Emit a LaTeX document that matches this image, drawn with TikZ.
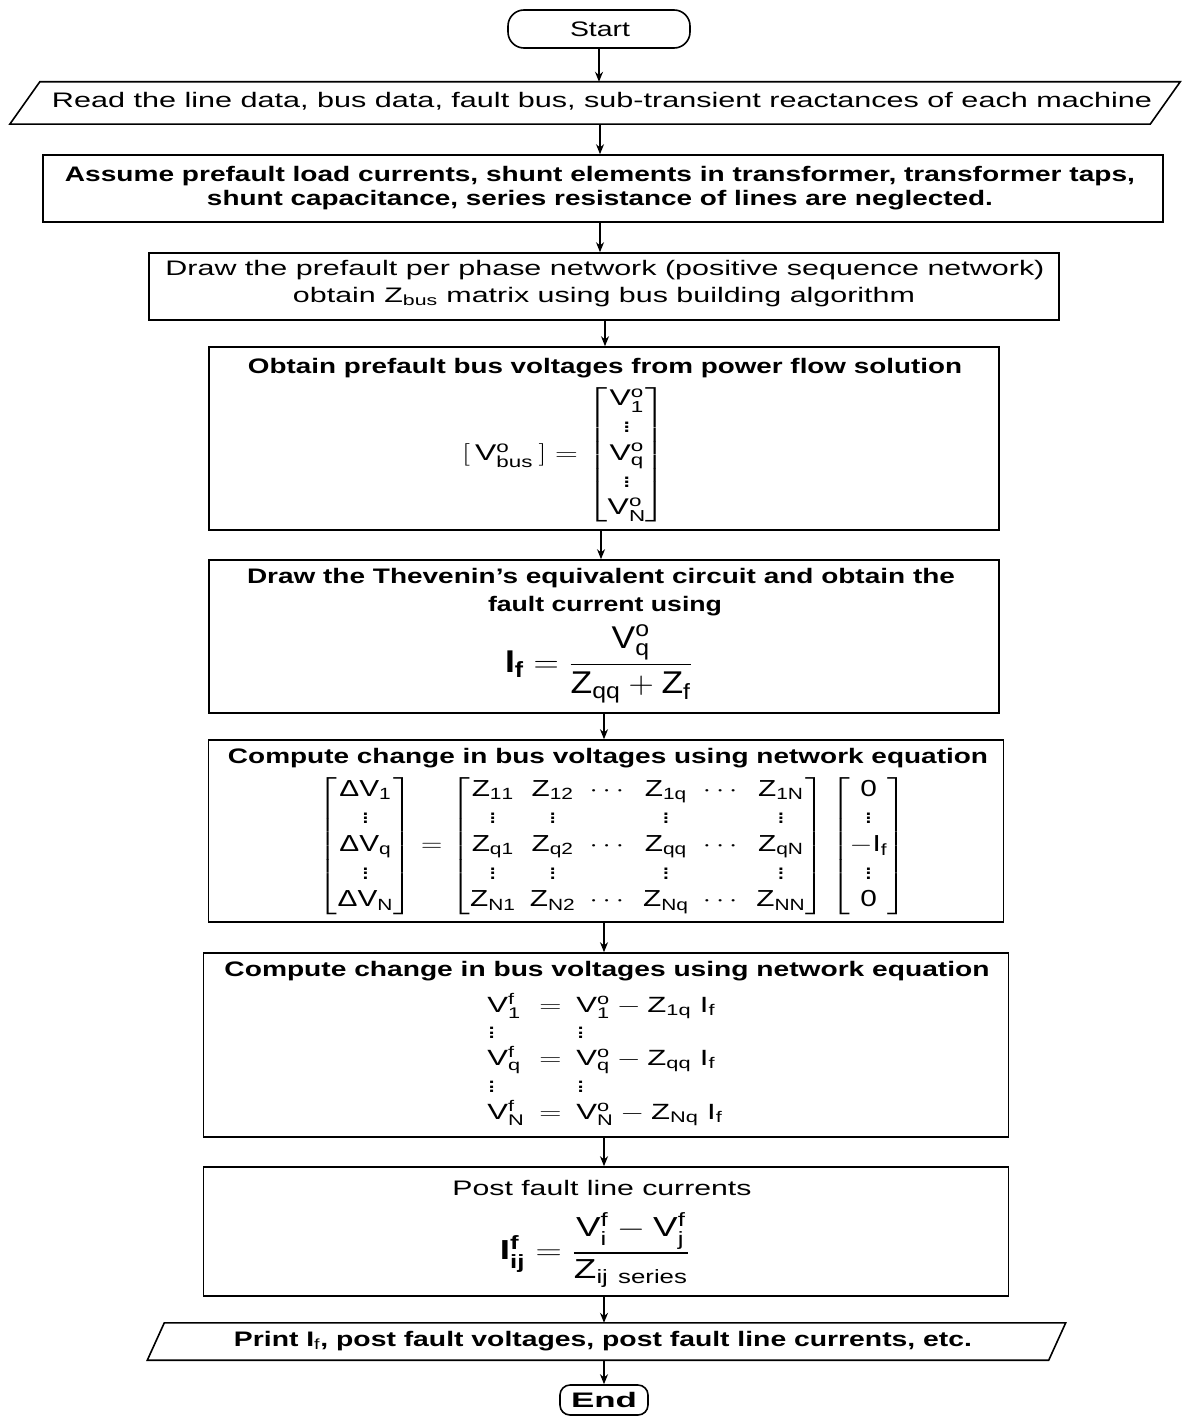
\documentclass[tikz,border=0pt]{standalone}
\usepackage{amsmath}
\usepackage{fontspec}
\setmainfont{Liberation Sans}
\usetikzlibrary{arrows.meta}
\newcommand{\fitw}[2]{\resizebox{#1}{\height}{#2}}
\newcommand{\fitb}[3]{\resizebox*{#1}{#2}{#3}}
\newcommand{\mr}[1]{\mathrm{#1}}
\begin{document}
\begin{tikzpicture}[x=1pt,y=-1pt,
  box/.style={draw, line width=1.6pt, inner sep=0pt},
  ghost/.style={inner sep=0pt},
  txt/.style={inner sep=0pt, font=\fontsize{21}{25}\selectfont},
  arr/.style={line width=1.3pt, -{Stealth[length=10pt,width=8pt]}}]
\useasboundingbox (0,0) rectangle (1187,1418);
\fill[white] (0,0) rectangle (1187,1418);

% Start
\node[box, rounded corners=16pt, minimum width=182pt, minimum height=38pt] (start) at (599,29) {};
\node[txt] (starttxt) at (600,29) {\fitw{60pt}{Start}};

% Read (parallelogram)
\node[ghost, minimum width=1140pt, minimum height=42pt] (read) at (595,103) {};
\draw[line width=1.6pt] ([xshift=15pt]read.north west) -- ([xshift=15pt]read.north east)
  -- ([xshift=-15pt]read.south east) -- ([xshift=-15pt]read.south west) -- cycle;
\node[txt] (readtxt) at (602,101) {\fitw{1100pt}{Read the line data, bus data, fault bus, sub-transient reactances of each machine}};

% Assume
\node[box, minimum width=1120pt, minimum height=67pt] (assume) at (603,188.5) {};
\node[txt] (assume1) at (600,176) {\fitw{1070pt}{\bfseries Assume prefault load currents, shunt elements in transformer, transformer taps,}};
\node[txt] (assume2) at (600,200) {\fitw{786pt}{\bfseries shunt capacitance, series resistance of lines are neglected.}};

% Draw prefault network
\node[box, minimum width=910pt, minimum height=67pt] (drawnet) at (604,286.5) {};
\node[txt] (drawnet1) at (605,270) {\fitw{879pt}{Draw the prefault per phase network (positive sequence network)}};
\node[txt] (drawnet2) at (604,297) {\fitw{622pt}{obtain Z$_{\mr{bus}}$ matrix using bus building algorithm}};

% Obtain prefault voltages
\node[box, minimum width=790pt, minimum height=183pt] (obtain) at (604,438.5) {};
\node[txt] (obtain1) at (605,368) {\fitw{714pt}{\bfseries Obtain prefault bus voltages from power flow solution}};
\node[txt] (obtaineq) at (564.5,455) {\fitb{205pt}{136pt}{$[\,\mr{V^{o}_{bus}}\,] = \begin{bmatrix}\mr{V^{o}_{1}}\\ \vdots\\ \mr{V^{o}_{q}}\\ \vdots\\ \mr{V^{o}_{N}}\end{bmatrix}$}};

% Thevenin
\node[box, minimum width=790pt, minimum height=153pt] (thev) at (604,636.5) {};
\node[txt] (thev1) at (601,578) {\fitw{708pt}{\bfseries Draw the Thevenin's equivalent circuit and obtain the}};
\node[txt] (thev2) at (605,606) {\fitw{234pt}{\bfseries fault current using}};
\node[txt] (theveq) at (599,664) {\fitb{188pt}{78pt}{$\mathbf{I_{f}} = \dfrac{\mr{V^{o}_{q}}}{\mr{Z_{qq}} + \mr{Z_{f}}}$}};

% Compute change
\node[box, minimum width=795pt, minimum height=182pt] (comp1) at (606,831) {};
\node[txt] (comp1t) at (608,758) {\fitw{760pt}{\bfseries Compute change in bus voltages using network equation}};
\node[txt] (comp1eq) at (612.5,846) {\fitb{589pt}{138pt}{$\begin{bmatrix}\text{Δ}\mr{V_{1}}\\ \vdots\\ \text{Δ}\mr{V_{q}}\\ \vdots\\ \text{Δ}\mr{V_{N}}\end{bmatrix}
 = \begin{bmatrix}\mr{Z_{11}} & \mr{Z_{12}} & \cdots & \mr{Z_{1q}} & \cdots & \mr{Z_{1N}}\\
 \vdots & \vdots & & \vdots & & \vdots\\
 \mr{Z_{q1}} & \mr{Z_{q2}} & \cdots & \mr{Z_{qq}} & \cdots & \mr{Z_{qN}}\\
 \vdots & \vdots & & \vdots & & \vdots\\
 \mr{Z_{N1}} & \mr{Z_{N2}} & \cdots & \mr{Z_{Nq}} & \cdots & \mr{Z_{NN}}\end{bmatrix}
 \begin{bmatrix}\mr{0}\\ \vdots\\ -\mr{I_{f}}\\ \vdots\\ \mr{0}\end{bmatrix}$}};

% Compute post-fault voltages
\node[box, minimum width=805pt, minimum height=184pt] (comp2) at (606,1045) {};
\node[txt] (comp2t) at (607,971) {\fitw{765pt}{\bfseries Compute change in bus voltages using network equation}};
\node[txt] (comp2eq) at (605,1060) {\fitb{250pt}{134pt}{$\begin{array}{lcl}
 \mr{V^{f}_{1}} & = & \mr{V^{o}_{1}} - \mr{Z_{1q}}\;\mr{I_{f}}\\
 \vdots & & \vdots\\
 \mr{V^{f}_{q}} & = & \mr{V^{o}_{q}} - \mr{Z_{qq}}\;\mr{I_{f}}\\
 \vdots & & \vdots\\
 \mr{V^{f}_{N}} & = & \mr{V^{o}_{N}} - \mr{Z_{Nq}}\;\mr{I_{f}}\end{array}$}};

% Post fault line currents
\node[box, minimum width=805pt, minimum height=129pt] (post) at (606,1231.5) {};
\node[txt] (post1) at (602,1188) {\fitw{299pt}{Post fault line currents}};
\node[txt] (posteq) at (595,1250) {\fitb{190pt}{74pt}{$\mathbf{I^{f}_{ij}} = \dfrac{\mr{V^{f}_{i}} - \mr{V^{f}_{j}}}{\mr{Z_{ij\ series}}}$}};

% Print (parallelogram)
\node[ghost, minimum width=901pt, minimum height=37pt] (print) at (606.5,1341.5) {};
\draw[line width=1.6pt] ([xshift=8.5pt]print.north west) -- ([xshift=8.5pt]print.north east)
  -- ([xshift=-8.5pt]print.south east) -- ([xshift=-8.5pt]print.south west) -- cycle;
\node[txt] (printtxt) at (603,1341) {\fitw{738pt}{\bfseries Print I$_{\mr{f}}$, post fault voltages, post fault line currents, etc.}};

% End
\node[box, rounded corners=10pt, minimum width=88pt, minimum height=30pt] (end) at (604,1400) {};
\node[txt] (endtxt) at (604,1400) {\fitw{66pt}{\bfseries End}};

% Connectors
\draw[arr] (start.south) -- (start.south |- read.north);
\draw[arr] (read.south -| starttxt.south) -- (starttxt.south |- assume.north);
\draw[arr] (assume.south -| starttxt.south) -- (starttxt.south |- drawnet.north);
\draw[arr] (drawnet.south -| obtain1.south) -- (obtain1.south |- obtain.north);
\draw[arr] (obtain.south -| thev1.south) -- (thev1.south |- thev.north);
\draw[arr] (thev.south -| endtxt.south) -- (endtxt.south |- comp1.north);
\draw[arr] (comp1.south -| endtxt.south) -- (endtxt.south |- comp2.north);
\draw[arr] (comp2.south -| endtxt.south) -- (endtxt.south |- post.north);
\draw[arr] (post.south -| endtxt.south) -- (endtxt.south |- print.north);
\draw[arr] (print.south -| endtxt.south) -- (end.north);
\end{tikzpicture}
\end{document}
